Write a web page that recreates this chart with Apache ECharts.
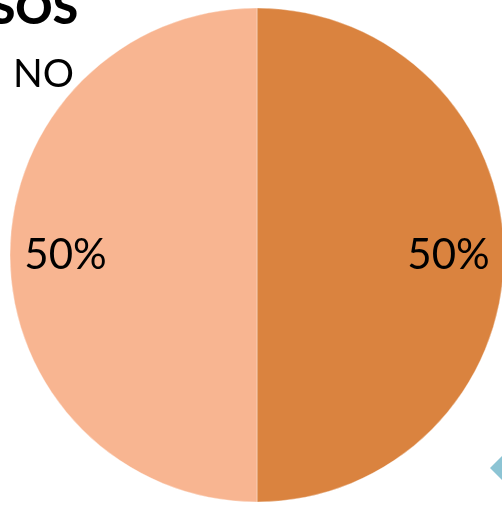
<!DOCTYPE html>
<html>
<head>
<meta charset="utf-8">
<script src="https://cdn.jsdelivr.net/npm/echarts@6/dist/echarts.min.js"></script>
<style>html,body{margin:0;padding:0;background:#fff;}#c{width:502px;height:505px;}</style>
</head>
<body>
<div id="c"></div>
<script>
const categories = ['SI', 'NO'];
const values = [50, 50];
const colors = ['#DA833F', '#F8B591'];
const titleText = 'SOS';
const legendText = 'NO';

const chart = echarts.init(document.getElementById('c'), null, {renderer: 'canvas'});
const data = categories.map((c, i) => ({name: c, value: values[i], itemStyle: {color: colors[i]}}));
const fontFam = 'Lato, "Open Sans", sans-serif';
chart.setOption({
  animation: false,
  backgroundColor: '#ffffff',
  graphic: [
    {type: 'text', right: 424, top: -14, style: {text: titleText, font: '900 46px ' + fontFam, fill: '#000', textAlign: 'right'}},
    {type: 'text', left: 13, top: 55, style: {text: legendText, font: '39px ' + fontFam, fill: '#000'}},
    {type: 'rect', shape: {x: 0, y: 0, width: 24, height: 24}, x: 507, y: 451, rotation: -Math.PI / 4,
     style: {fill: '#8CC4D4'}}
  ],
  series: [
    {
      type: 'pie', center: [257, 255], radius: 247, startAngle: 90, clockwise: true,
      data: data, label: {show: false}, labelLine: {show: false},
      itemStyle: {borderColor: 'rgba(255,255,255,0.35)', borderWidth: 1},
      emphasis: {disabled: true}
    },
    {
      type: 'pie', center: [257, 255], radius: [130, 247], startAngle: 90, clockwise: true,
      data: data.map(d => ({name: d.name, value: d.value, itemStyle: {color: 'rgba(0,0,0,0)'}})),
      label: {show: true, position: 'inside', formatter: p => Math.round(p.percent) + '%',
              color: '#000', fontFamily: fontFam, fontSize: 42, padding: [10, 0, 0, 0]},
      labelLine: {show: false}, silent: true, emphasis: {disabled: true}
    }
  ]
});
</script>
</body>
</html>
